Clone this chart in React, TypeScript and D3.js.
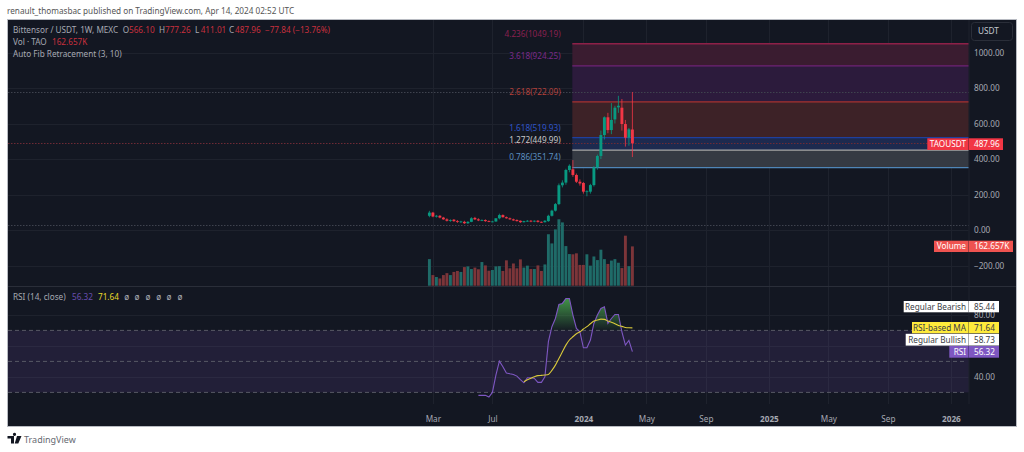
import { useEffect, useRef } from 'react';
import * as d3 from 'd3';

const FONT = '"Noto Sans", sans-serif';
const TEXT_SIZE = 8.2;

// weekly bars, first one is the week of 2023-02-27
const firstWeek = new Date(Date.UTC(2023, 1, 27));
const opens = [80, 98, 76, 80, 70, 60, 52, 58, 50, 46, 46, 38, 46, 68, 60, 54, 56, 50, 46, 48, 66, 84, 72, 66, 60, 56, 52, 44, 50, 52, 48, 52, 46, 44, 50, 80, 109, 146, 252, 267, 338, 342, 310, 272, 265, 216, 216, 253, 353, 417, 535, 635, 563, 623, 691, 689, 597, 520, 566.1];
const highs = [108, 102, 85, 84, 74, 66, 60, 62, 56, 52, 52, 50, 72, 74, 66, 60, 60, 54, 52, 66, 92, 88, 76, 70, 64, 60, 54, 52, 56, 56, 54, 56, 48, 56, 86, 114, 152, 262, 280, 345, 370, 394, 318, 285, 270, 224, 260, 360, 425, 560, 640, 660, 715, 700, 756, 738, 620, 575, 777.26];
const lows = [72, 72, 70, 66, 58, 48, 46, 46, 40, 40, 34, 34, 44, 56, 50, 50, 46, 44, 44, 46, 60, 70, 64, 58, 52, 48, 40, 42, 46, 44, 44, 42, 40, 42, 46, 76, 104, 140, 240, 255, 325, 300, 265, 250, 205, 190, 205, 245, 340, 400, 510, 545, 540, 600, 660, 560, 470, 475, 411.01];
const closes = [98, 76, 80, 70, 60, 52, 56, 50, 46, 48, 38, 46, 66, 60, 54, 56, 50, 48, 48, 66, 84, 72, 66, 60, 54, 50, 44, 50, 52, 48, 52, 46, 44, 52, 80, 109, 146, 252, 267, 338, 362, 310, 272, 262, 216, 218, 253, 353, 417, 535, 635, 563, 620, 689, 700, 597, 520, 567, 487.96];
const volumes = [110, 44, 36, 30, 44, 52, 44, 57, 61, 57, 77, 80, 69, 75, 68, 98, 84, 62, 65, 80, 81, 61, 105, 72, 92, 72, 109, 75, 83, 69, 69, 84, 61, 88, 213, 175, 233, 275, 262, 164, 131, 130, 134, 86, 86, 130, 83, 121, 106, 149, 110, 90, 104, 110, 95, 73, 207, 81, 162.657];

// RSI starts on bar 14, its MA on bar 27
const rsiStart = 14;
const rsiValues = [28.1, 28.1, 28.1, 27, 30, 41.2, 50.2, 46.6, 42.5, 42, 41.6, 40.5, 38.2, 36.2, 39.5, 39.5, 39, 36.5, 36.5, 40.1, 62.7, 72.4, 77.7, 86.8, 87.4, 90.6, 90.6, 79.9, 71.3, 69.1, 58.8, 58.8, 63.8, 74.5, 79.9, 84.2, 85.3, 74.5, 77.7, 80.3, 80.3, 69.1, 60.5, 63.5, 56.32];
const maStart = 27;
const maValues = [36.9, 38.2, 39.2, 40.1, 40.8, 41, 41.2, 41.6, 44.2, 47.6, 51.9, 56.2, 60.5, 63.8, 65.9, 67.8, 69.1, 70.9, 72.4, 74.3, 76, 76.7, 77.3, 77.1, 76, 75.2, 74.3, 73.2, 72.6, 71.9, 71.7, 71.64];

const fibLevels = [4.236, 3.618, 2.618, 1.618, 1.272, 0.786];
const fibPrices = [1049.19, 924.25, 722.09, 519.93, 449.99, 351.74];
const fibLine = ['#8e2048', '#6f2377', '#a83232', '#1f3f9e', '#a8a8a8', '#4f86b8'];
const fibText = ['#8a2050', '#7b2a8a', '#b3403a', '#2f55c8', '#c8c8c8', '#5b8fc0'];
const fibFill = ['#3a1c30', '#2c1b3c', '#3d2227', '#1d2a4f', '#353a43'];

const priceTicks = [1000, 800, 600, 400, 200, 0, -200];
const rsiTicks = [80, 60, 40];
const rsiBands = [70, 50, 30];
const timeTicks = ['2023-03-06', '2023-07-03', '2024-01-01', '2024-05-06', '2024-09-02', '2025-01-06', '2025-05-05', '2025-09-01', '2026-01-05'];
const timeLabels = ['Mar', 'Jul', '2024', 'May', 'Sep', '2025', 'May', 'Sep', '2026'];

const UP = '#089981';
const DOWN = '#f23645';
const PANE_R = 968.5;

export default function App() {
  const svgRef = useRef<SVGSVGElement>(null);

  useEffect(() => {
    if (!svgRef.current) return;
    const svg = d3.select(svgRef.current);
    svg.selectAll('*').remove();

    const x = d3.scaleUtc()
      .domain([firstWeek, new Date(Date.UTC(2026, 0, 5))])
      .range([429.4, 950.9]);
    const barX = (i: number) => x(d3.utcMonday.offset(firstWeek, i));
    const y = d3.scaleLinear().domain([0, 1000]).range([230, 52.5]);
    const yVol = d3.scaleLinear().domain([0, 162.657]).range([285.7, 246.4]);
    const yRsi = d3.scaleLinear().domain([30, 70]).range([392.4, 330.4]);

    const text = (s: string, tx: number, ty: number, fill: string, size = TEXT_SIZE, anchor = 'start', weight = 400) =>
      svg.append('text')
        .attr('x', tx).attr('y', ty).attr('dy', '0.35em')
        .attr('font-family', FONT).attr('font-size', size).attr('font-weight', weight)
        .attr('text-anchor', anchor).attr('fill', fill).text(s);

    // frame
    svg.append('rect').attr('width', 1024).attr('height', 452).attr('fill', '#ffffff');
    svg.append('rect').attr('x', 7.5).attr('y', 19.5).attr('width', 1009).attr('height', 407)
      .attr('fill', '#131722').attr('stroke', '#b8bbc2').attr('stroke-width', 1);

    text('renault_thomasbac published on TradingView.com, Apr 14, 2024 02:52 UTC', 7, 11, '#555555');

    // grid
    const grid = svg.append('g').attr('stroke', '#1e222d').attr('stroke-width', 1);
    timeTicks.forEach(d => {
      const gx = Math.round(x(new Date(d + 'T00:00:00Z'))) + 0.5;
      grid.append('line').attr('x1', gx).attr('x2', gx).attr('y1', 20).attr('y2', 404);
    });
    priceTicks.forEach(v => {
      const gy = Math.round(y(v)) + 0.5;
      grid.append('line').attr('x1', 8).attr('x2', PANE_R).attr('y1', gy).attr('y2', gy);
    });
    rsiTicks.forEach(v => {
      const gy = Math.round(yRsi(v)) + 0.5;
      grid.append('line').attr('x1', 8).attr('x2', PANE_R).attr('y1', gy).attr('y2', gy);
    });

    // pane separators
    svg.append('line').attr('x1', 8).attr('x2', 1016).attr('y1', 286.5).attr('y2', 286.5).attr('stroke', '#2a2e39');
    svg.append('line').attr('x1', PANE_R + 0.5).attr('x2', PANE_R + 0.5).attr('y1', 20).attr('y2', 404).attr('stroke', '#1e222d');

    // fib zones
    const fibX = 572.3;
    fibFill.forEach((c, i) => {
      svg.append('rect').attr('x', fibX).attr('width', PANE_R - fibX)
        .attr('y', y(fibPrices[i])).attr('height', y(fibPrices[i + 1]) - y(fibPrices[i]))
        .attr('fill', c);
    });

    // high, low and last price lines
    [[777.26, '#3f434e'], [28, '#3f434e'], [487.96, '#6e2a35']].forEach(([v, c]) => {
      const ly = Math.round(y(v as number)) + 0.5;
      svg.append('line').attr('x1', 8).attr('x2', PANE_R).attr('y1', ly).attr('y2', ly)
        .attr('stroke', c as string).attr('stroke-dasharray', '1.5 1.5');
    });

    fibLevels.forEach((lvl, i) => {
      const ly = y(fibPrices[i]);
      svg.append('line').attr('x1', fibX).attr('x2', PANE_R).attr('y1', ly).attr('y2', ly)
        .attr('stroke', fibLine[i]).attr('stroke-width', 1.3);
      text(`${lvl}(${fibPrices[i].toFixed(2)})`, 560.7, ly - 10, fibText[i], TEXT_SIZE, 'end');
    });

    // volume
    svg.append('g').selectAll('rect').data(volumes).join('rect')
      .attr('x', (_, i) => barX(i) - 1.45)
      .attr('width', 2.9)
      .attr('y', d => yVol(d))
      .attr('height', d => yVol(0) - yVol(d))
      .attr('fill', (_, i) => closes[i] >= opens[i] ? '#1f6b68' : '#7c3539');

    // candles
    const candles = svg.append('g');
    candles.selectAll('line').data(closes).join('line')
      .attr('x1', (_, i) => barX(i)).attr('x2', (_, i) => barX(i))
      .attr('y1', (_, i) => y(highs[i])).attr('y2', (_, i) => y(lows[i]))
      .attr('stroke', (d, i) => d >= opens[i] ? UP : DOWN).attr('stroke-width', 0.8);
    candles.selectAll('rect').data(closes).join('rect')
      .attr('x', (_, i) => barX(i) - 1.45)
      .attr('width', 2.9)
      .attr('y', (d, i) => y(Math.max(d, opens[i])))
      .attr('height', (d, i) => Math.max(0.8, Math.abs(y(d) - y(opens[i]))))
      .attr('fill', (d, i) => d >= opens[i] ? UP : DOWN);

    // RSI band
    svg.append('rect').attr('x', 8).attr('width', PANE_R - 8)
      .attr('y', yRsi(70)).attr('height', yRsi(30) - yRsi(70))
      .attr('fill', '#7e57c2').attr('opacity', 0.14);
    rsiBands.forEach(v => {
      svg.append('line').attr('x1', 8).attr('x2', PANE_R - 2).attr('y1', yRsi(v)).attr('y2', yRsi(v))
        .attr('stroke', '#5d606b').attr('stroke-dasharray', '4 3').attr('stroke-width', 0.9);
    });

    // overbought gradient fill
    const defs = svg.append('defs');
    const grad = defs.append('linearGradient').attr('id', 'rsi-ob')
      .attr('gradientUnits', 'userSpaceOnUse')
      .attr('x1', 0).attr('x2', 0).attr('y1', yRsi(90)).attr('y2', yRsi(70));
    grad.append('stop').attr('offset', '0%').attr('stop-color', '#4caf50').attr('stop-opacity', 0.8);
    grad.append('stop').attr('offset', '100%').attr('stop-color', '#4caf50').attr('stop-opacity', 0.03);

    const rsiX = (_: number, i: number) => barX(i + rsiStart);
    const area = d3.area<number>()
      .defined(d => d >= 69)
      .x(rsiX)
      .y0(yRsi(70))
      .y1(d => yRsi(Math.max(d, 70)));
    svg.append('path').datum(rsiValues).attr('d', area).attr('fill', 'url(#rsi-ob)');

    const rsiLine = d3.line<number>().x(rsiX).y(d => yRsi(d));
    svg.append('path').datum(rsiValues).attr('d', rsiLine)
      .attr('fill', 'none').attr('stroke', '#7e57c2').attr('stroke-width', 1.1);

    const maLine = d3.line<number>()
      .x((_, i) => barX(i + maStart))
      .y(d => yRsi(d))
      .curve(d3.curveMonotoneX);
    svg.append('path').datum(maValues).attr('d', maLine)
      .attr('fill', 'none').attr('stroke', '#d9c93a').attr('stroke-width', 1.1);

    // axes
    const styleAxis = (g: d3.Selection<SVGGElement, unknown, null, undefined>) => {
      g.select('.domain').remove();
      g.selectAll('line').remove();
      g.selectAll('text').attr('font-family', FONT).attr('font-size', TEXT_SIZE).attr('fill', '#a6a9b2');
    };
    const price = svg.append('g').attr('transform', 'translate(969,0)') as any;
    price.call(d3.axisRight(y).tickValues(priceTicks).tickSize(0).tickPadding(5)
      .tickFormat(d => d3.format('.2f')(d as number).replace('-', '\u2212')));
    styleAxis(price);
    const rsiAxis = svg.append('g').attr('transform', 'translate(969,0)') as any;
    rsiAxis.call(d3.axisRight(yRsi).tickValues(rsiTicks.filter(v => v !== 60)).tickSize(0).tickPadding(5)
      .tickFormat(d => d3.format('.2f')(d as number)));
    styleAxis(rsiAxis);

    const timeAxis = svg.append('g').attr('transform', 'translate(0,413)') as any;
    timeAxis.call(d3.axisBottom(x).tickValues(timeTicks.map(d => new Date(d + 'T00:00:00Z')))
      .tickSize(0).tickPadding(3)
      .tickFormat((_, i) => timeLabels[i]));
    styleAxis(timeAxis);
    timeAxis.selectAll('text')
      .attr('font-weight', (_: unknown, i: number) => /^\d/.test(timeLabels[i]) ? 700 : 400);

    // USDT button
    svg.append('rect').attr('x', 971.5).attr('y', 22.5).attr('width', 41).attr('height', 18).attr('rx', 3)
      .attr('fill', 'none').attr('stroke', '#2a2e39');
    text('USDT', 978, 31, '#c4c7ce');

    // price and study tags
    const tag = (label: string, value: string, left: number, right: number, top: number, bottom: number, fill: string, ink: string) => {
      svg.append('rect').attr('x', left).attr('y', top).attr('width', right - left).attr('height', bottom - top).attr('fill', fill);
      svg.append('line').attr('x1', 968.5).attr('x2', 968.5).attr('y1', top).attr('y2', bottom).attr('stroke', '#131722').attr('stroke-opacity', 0.35);
      text(label, 966, (top + bottom) / 2, ink, TEXT_SIZE, 'end');
      text(value, 974, (top + bottom) / 2, ink);
    };
    tag('TAOUSDT', '487.96', 927.3, 1003, 138.3, 150, '#f23645', '#ffffff');
    tag('Volume', '162.657K', 934, 1013, 240.7, 252, '#ef5350', '#ffffff');
    tag('Regular Bearish', '85.44', 903.7, 999, 301, 312.3, '#ffffff', '#3a3d45');
    tag('RSI-based MA', '71.64', 912, 999, 322, 333.3, '#ffeb3b', '#3a3d45');
    tag('Regular Bullish', '58.73', 905.7, 999, 333.8, 345.6, '#ffffff', '#3a3d45');
    tag('RSI', '56.32', 949.3, 999, 346, 357.7, '#7e57c2', '#ffffff');

    // legends
    const LEG = '#a6a9b2';
    const RED = '#c8303e';
    text('Bittensor / USDT, 1W, MEXC', 13, 30, LEG);
    [['O', 122.7, '566.10', 129], ['H', 159, '777.26', 165], ['L', 195, '411.01', 200.7], ['C', 229, '487.96', 235]].forEach(([k, kx, v, vx]) => {
      text(k as string, kx as number, 30, LEG);
      text(v as string, vx as number, 30, RED);
    });
    text('\u221277.84 (\u221213.76%)', 265, 30, RED);
    text('Vol \u00b7 TAO', 13, 42.3, LEG);
    text('162.657K', 52, 42.3, RED);
    text('Auto Fib Retracement (3, 10)', 13, 54, LEG);
    text('RSI (14, close)', 13, 297.3, LEG);
    text('56.32', 72, 297.3, '#6a4fb0');
    text('71.64', 98, 297.3, '#e8d82a');
    [126.7, 137, 148, 158.7, 169, 180].forEach(cx => text('\u00f8', cx, 297.3, LEG, TEXT_SIZE, 'middle'));

    // footer logo
    svg.append('path')
      .attr('d', 'M7.5 436h6.5v7.5h-3v-5h-3.5z M14.5 436a1.6 1.6 0 1 1 0.01 0z M17 436h4.5l-3.2 7.5h-3.6z')
      .attr('fill', '#131722');
    text('TradingView', 24, 440, '#666a72', 9);
  }, []);

  return (
    <svg
      ref={svgRef}
      width={1024}
      height={452}
      style={{ position: 'absolute', left: 0, top: 0, display: 'block' }}
    />
  );
}
